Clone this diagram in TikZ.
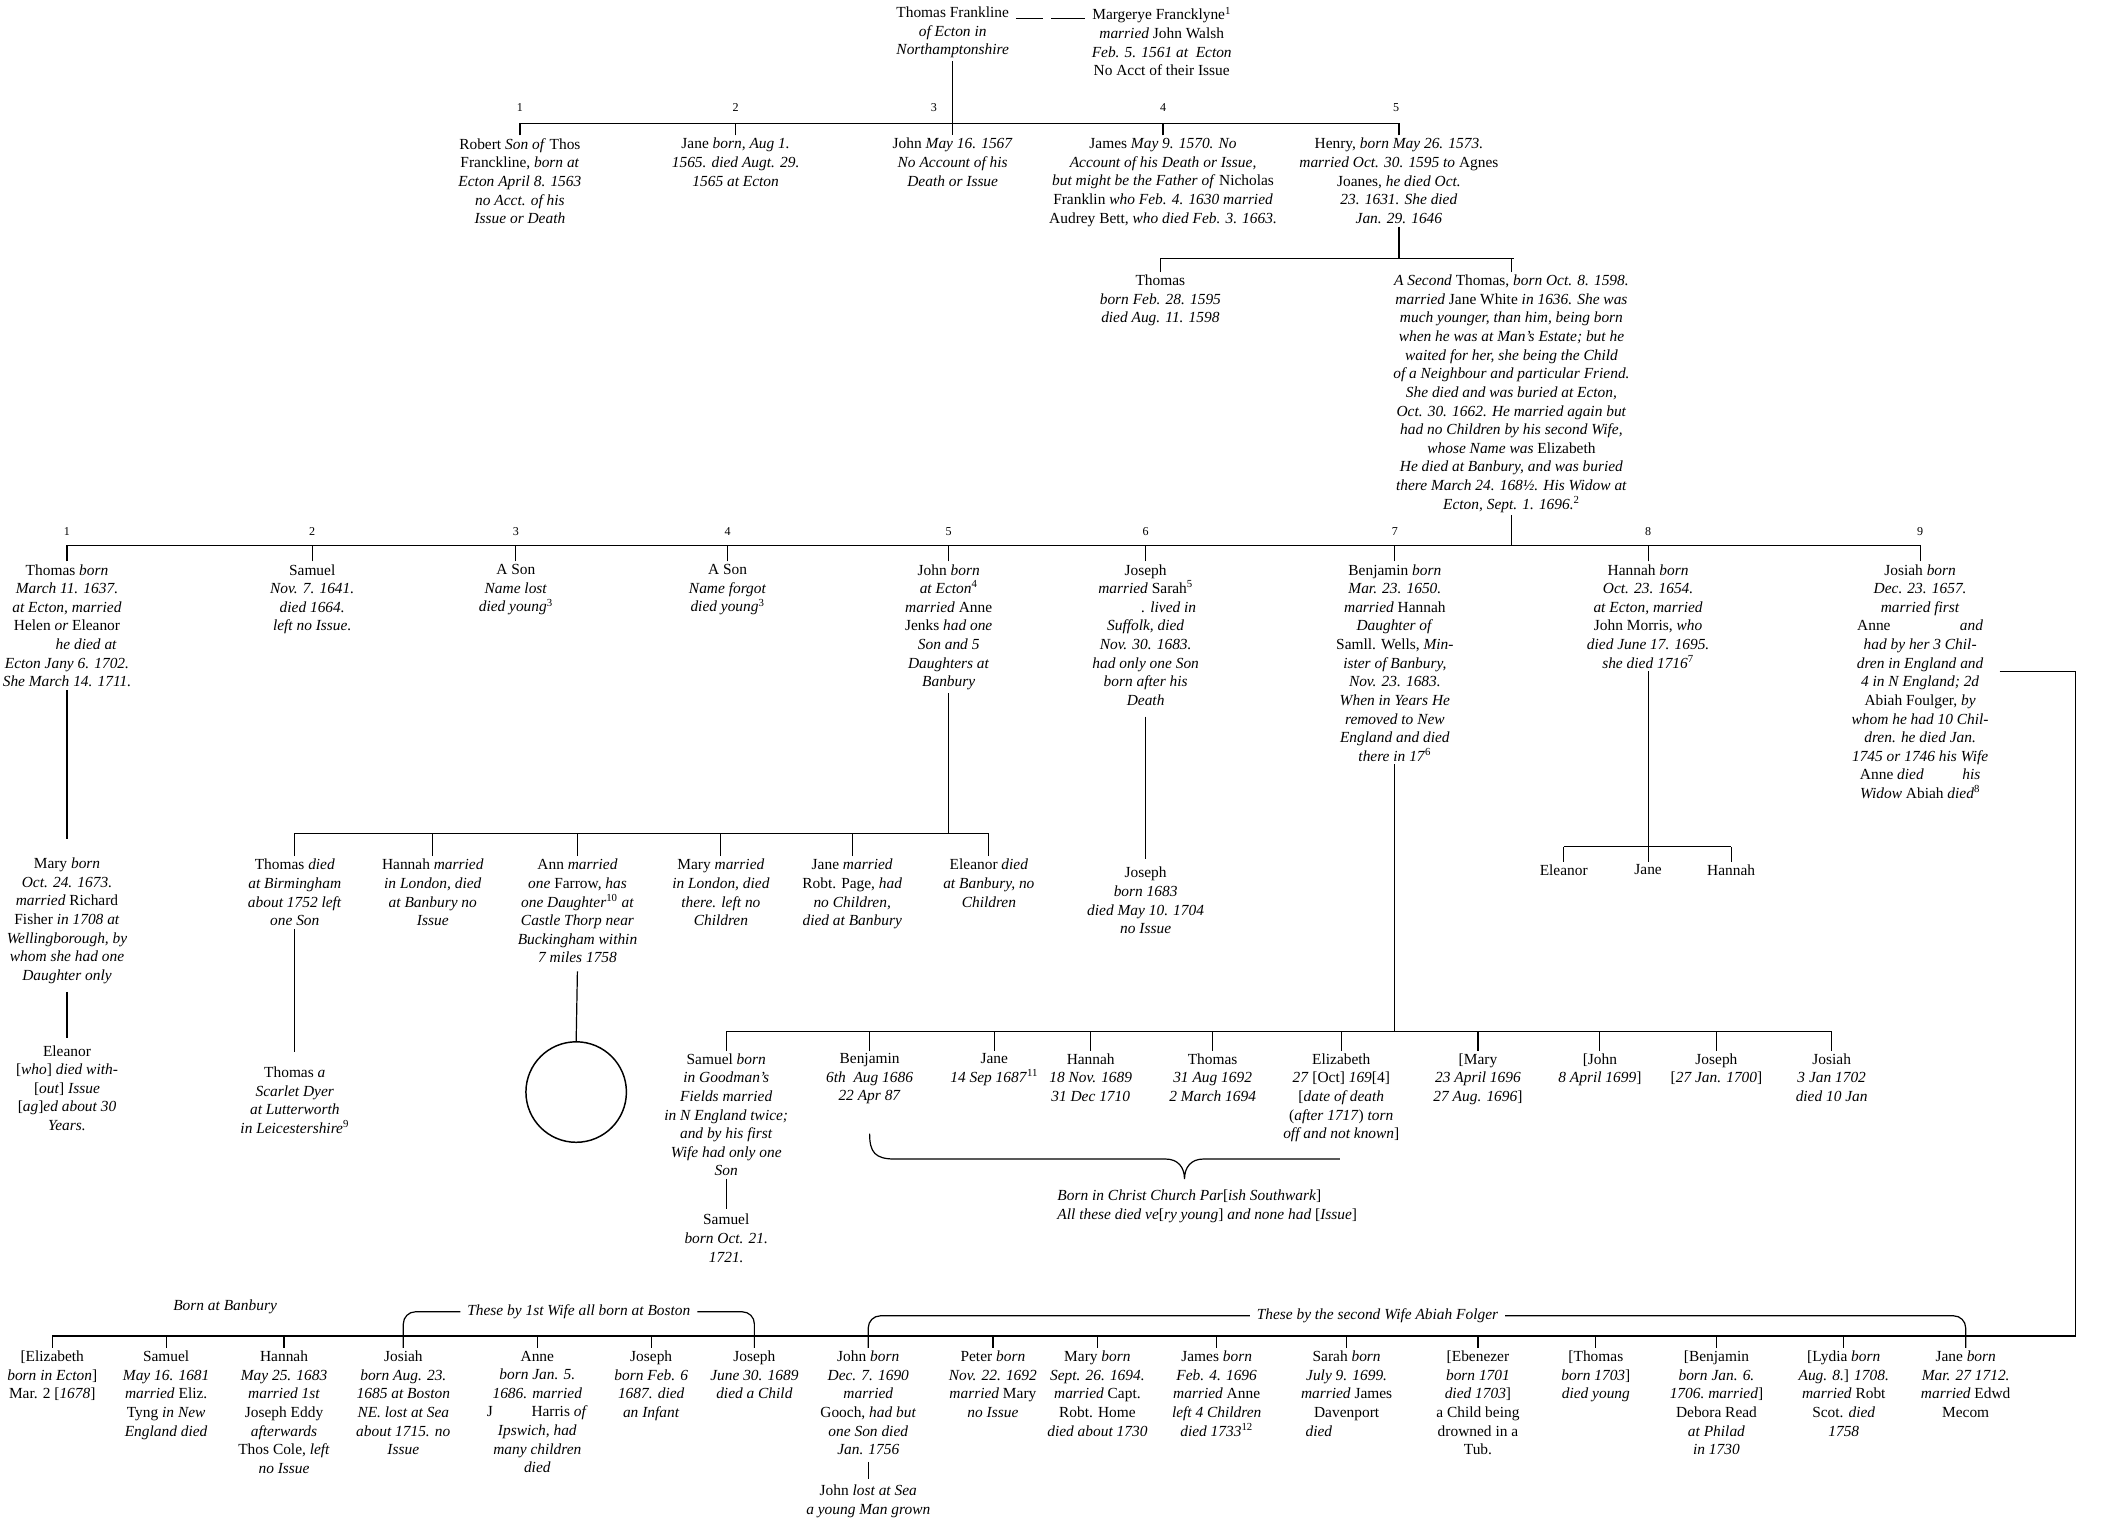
\documentclass[tikz,border=0pt]{standalone}
\usepackage{fontspec}
\setmainfont{Liberation Serif}
\tikzset{%
  kin/.style={anchor=north, align=center, inner sep=2pt,
              font=\fontsize{11.5}{13.9}\selectfont},
  nr/.style={font=\fontsize{9}{10}\selectfont, inner sep=1pt},
  tie/.style={line width=0.9pt},
}

\begin{document}
\begin{tikzpicture}[x=1pt, y=-1pt]
\useasboundingbox (0,0) rectangle (1568,1140);

% Thomas Frankline and his sister Margerye
\node[kin] (tf) at (711,3) {Thomas Frankline\\\textit{of Ecton in}\\\textit{Northamptonshire}};
\node[kin] (mf) at (867,3) {Margerye Francklyne\textsuperscript{1}\\\textit{married} John Walsh\\\textit{Feb. 5. 1561 at\ \ Ecton}\\No Acct of their Issue};
\draw[tie] ([shift={(3,11)}]tf.north east) -- ++(20,0);
\draw[tie] ([shift={(-3,11)}]mf.north west) -- ++(-25,0);

% First generation, five children
\coordinate (b1L) at (388,92);
\coordinate (b1R) at (1044,92);
\draw[tie] (b1L) -- (b1R);
\foreach \x/\n in {388/1, 549/2, 697/3, 868/4, 1042/5}
  \node[nr] (n1\n) at (\x,80) {\n};

\node[kin] (robert) at (388,101) {Robert \textit{Son of} Thos\\Franckline, \textit{born at}\\\textit{Ecton April 8. 1563}\\\textit{no Acct. of his}\\\textit{Issue or Death}};
\node[kin] (jane) at (549,101) {Jane \textit{born, Aug 1.}\\\textit{1565. died Augt. 29.}\\\textit{1565 at Ecton}};
\node[kin] (john) at (711,101) {John \textit{May 16. 1567}\\\textit{No Account of his}\\\textit{Death or Issue}};
\node[kin] (james) at (868,101) {James \textit{May 9. 1570. No}\\\textit{Account of his Death or Issue,}\\\textit{but might be\ the Father of} Nicholas\\Franklin \textit{who Feb. 4. 1630 married}\\Audrey Bett, \textit{who died Feb. 3. 1663.}};
\node[kin] (henry) at (1044,101) {Henry, \textit{born May 26. 1573.}\\\textit{married Oct. 30. 1595 to} Agnes\\Joanes, \textit{he died Oct.}\\\textit{23. 1631. She died}\\\textit{Jan. 29. 1646}};

\draw[tie] (tf.south) -- (john.north);
\foreach \p in {robert, jane, james, henry}
  \draw[tie] (\p.north) -- (\p.north |- b1L);

% Henry's two sons named Thomas
\coordinate (b2L) at (866,193);
\coordinate (b2R) at (1130,193);
\draw[tie] (b2L) -- (b2R);
\draw[tie] (henry.south) -- (henry.south |- b2L);

\node[kin] (thomasI) at (866,203) {Thomas\\\textit{born Feb. 28. 1595}\\\textit{died Aug. 11. 1598}};
\node[kin] (thomasII) at (1128,203) {\textit{A Second} Thomas, \textit{born Oct. 8. 1598.}\\
  \textit{married} Jane White \textit{in 1636. She was}\\
  \textit{much younger, than him, being born}\\
  \textit{when he was at Man's Estate; but he}\\
  \textit{waited for her, she being the Child}\\
  \textit{of a Neighbour and particular Friend.}\\
  \textit{She died and was buried at Ecton,}\\
  \textit{Oct. 30. 1662. He married again but}\\
  \textit{had no Children by his second Wife,}\\
  \textit{whose Name was} Elizabeth\hspace*{3.2em}\\
  \textit{He died at Banbury, and was buried}\\
  \textit{there March 24. 168½. His Widow at}\\
  \textit{Ecton, Sept. 1. 1696.}\textsuperscript{2}};
\foreach \p in {thomasI, thomasII}
  \draw[tie] (\p.north) -- (\p.north |- b2L);

% Children of the second Thomas
\coordinate (b3L) at (50,407);
\coordinate (b3R) at (1433,407);
\draw[tie] (b3L) -- (b3R);
\draw[tie] (thomasII.south) -- (thomasII.south |- b3L);
\foreach \x/\n in {50/1, 233/2, 385/3, 543/4, 708/5, 855/6, 1041/7, 1230/8, 1433/9}
  \node[nr] (n2\n) at (\x,397) {\n};

\node[kin] (thomasC) at (50,419) {Thomas \textit{born}\\\textit{March 11. 1637.}\\\textit{at Ecton, married}\\Helen \textit{or} Eleanor\\\hspace*{2.5em}\textit{he died at}\\\textit{Ecton Jany 6. 1702.}\\\textit{She March 14. 1711.}};
\node[kin] (samuelC) at (233,419) {Samuel\\\textit{Nov. 7. 1641.}\\\textit{died 1664.}\\\textit{left no Issue.}};
\node[kin] (sonC1) at (385,419) {A Son\\\textit{Name lost}\\\textit{died young}\textsuperscript{3}};
\node[kin] (sonC2) at (543,419) {A Son\\\textit{Name forgot}\\\textit{died young}\textsuperscript{3}};
\node[kin] (johnC) at (708,419) {John \textit{born}\\\textit{at Ecton}\textsuperscript{4}\\\textit{married} Anne\\Jenks \textit{had one}\\\textit{Son and 5}\\\textit{Daughters at}\\\textit{Banbury}};
\node[kin] (josephC) at (855,419) {Joseph\\\textit{married} Sarah\textsuperscript{5}\\\hspace*{3em}\textit{. lived in}\\\textit{Suffolk, died}\\\textit{Nov. 30. 1683.}\\\textit{had only one Son}\\\textit{born after his}\\\textit{Death}};
\node[kin] (benjaminC) at (1041,419) {Benjamin \textit{born}\\\textit{Mar. 23. 1650.}\\\textit{married} Hannah\\\textit{Daughter of}\\Samll. Wells, \textit{Min-}\\\textit{ister of Banbury,}\\\textit{Nov. 23. 1683.}\\\textit{When in Years He}\\\textit{removed to New}\\\textit{England and died}\\\textit{there in 17}\textsuperscript{6}};
\node[kin] (hannahC) at (1230,419) {Hannah \textit{born}\\\textit{Oct. 23. 1654.}\\\textit{at Ecton, married}\\John Morris, \textit{who}\\\textit{died June 17. 1695.}\\\textit{she died 1716}\textsuperscript{7}};
\node[kin] (josiahC) at (1433,419) {Josiah \textit{born}\\\textit{Dec. 23. 1657.}\\\textit{married first}\\Anne\hspace{4.5em}\textit{and}\\\textit{had by her 3 Chil-}\\\textit{dren in England and}\\\textit{4 in N England; 2d}\\Abiah Foulger, \textit{by}\\\textit{whom he had 10 Chil-}\\\textit{dren. he died Jan.}\\\textit{1745 or 1746 his\ Wife}\\Anne \textit{died}\hspace{2.5em}\textit{his}\\\textit{Widow} Abiah \textit{died}\textsuperscript{8}};

\foreach \p in {thomasC, samuelC, sonC1, sonC2, johnC, josephC, benjaminC, hannahC, josiahC}
  \draw[tie] (\p.north) -- (\p.north |- b3L);

% Thomas's line: Mary and her daughter
\node[kin] (maryT) at (50,638) {Mary \textit{born}\\\textit{Oct. 24. 1673.}\\\textit{married} Richard\\Fisher \textit{in 1708 at}\\\textit{Wellingborough, by}\\\textit{whom she had one}\\\textit{Daughter only}};
\node[kin] (eleanorT) at (50,778) {Eleanor\\{[}\textit{who}] \textit{died with-}\\{[}\textit{out}] \textit{Issue}\\{[}\textit{ag}]\textit{ed about 30}\\\textit{Years.}};
\draw[tie, shorten >=12pt] (thomasC.south) -- (maryT.north);
\draw[tie, shorten <=4pt, shorten >=3pt] (maryT.south) -- (eleanorT.north);

% John's son and five daughters
\coordinate (b4L) at (220,622);
\coordinate (b4R) at (738,622);
\draw[tie] (b4L) -- (b4R);
\draw[tie] (johnC.south) -- (johnC.south |- b4L);

\node[kin] (thomasN) at (220,639) {Thomas \textit{died}\\\textit{at Birmingham}\\\textit{about 1752 left}\\\textit{one Son}};
\node[kin] (hannahN) at (323,639) {Hannah \textit{married}\\\textit{in London, died}\\\textit{at Banbury no}\\\textit{Issue}};
\node[kin] (annN) at (431,639) {Ann \textit{married}\\\textit{one} Farrow, \textit{has}\\\textit{one Daughter}\textsuperscript{10} \textit{at}\\\textit{Castle Thorp near}\\\textit{Buckingham within}\\\textit{7 miles 1758}};
\node[kin] (maryN) at (538,639) {Mary \textit{married}\\\textit{in London, died}\\\textit{there. left no}\\\textit{Children}};
\node[kin] (janeN) at (636,639) {Jane \textit{married}\\Robt. Page, \textit{had}\\\textit{no Children,}\\\textit{died at Banbury}};
\node[kin] (eleanorN) at (738,639) {Eleanor \textit{died}\\\textit{at Banbury, no}\\\textit{Children}};
\foreach \p in {thomasN, hannahN, annN, maryN, janeN, eleanorN}
  \draw[tie] (\p.north) -- (\p.north |- b4L);

\node[kin] (dyer) at (220,794) {Thomas \textit{a}\\\textit{Scarlet Dyer}\\\textit{at Lutterworth}\\\textit{in Leicestershire}\textsuperscript{9}};
\draw[tie, shorten >=9pt] (thomasN.south) -- (dyer.north);

% Ann's daughter, left as an empty circle
\node[draw, circle, minimum size=75pt, inner sep=0pt, line width=1.1pt] (annKid) at (430,815) {};
\draw[tie, shorten <=4pt] (annN.south) -- (annKid.north);

% Joseph's son
\node[kin] (josephS) at (855,645) {Joseph\\\textit{born 1683}\\\textit{died May 10. 1704}\\\textit{no Issue}};
\draw[tie, shorten <=6pt, shorten >=4pt] (josephC.south) -- (josephS.north);

% Hannah's three daughters
\coordinate (b6L) at (1167,632);
\coordinate (b6R) at (1292,632);
\draw[tie] (b6L) -- (b6R);
\node[kin] (eleanorH) at (1167,643) {Eleanor};
\node[kin] (janeH) at (1230,643) {Jane};
\node[kin] (hannahH) at (1292,643) {Hannah};
\draw[tie] (hannahC.south) -- (janeH.north);
\foreach \p in {eleanorH, hannahH}
  \draw[tie] (\p.north) -- (\p.north |- b6L);

% Benjamin's children
\coordinate (b5L) at (542,770);
\coordinate (b5R) at (1367,770);
\draw[tie] (b5L) -- (b5R);
\draw[tie] (benjaminC.south) -- (benjaminC.south |- b5L);

\node[kin] (samuelB) at (542,784) {Samuel \textit{born}\\\textit{in Goodman's}\\\textit{Fields married}\\\textit{in N England twice;}\\\textit{and by his first}\\\textit{Wife had only one}\\\textit{Son}};
\node[kin] (benjaminB) at (649,784) {Benjamin\\\textit{6th\ \ Aug 1686}\\\textit{22 Apr 87}};
\node[kin] (janeB) at (742,784) {Jane\\\textit{14 Sep 1687}\textsuperscript{11}};
\node[kin] (hannahB) at (814,784) {Hannah\\\textit{18 Nov. 1689}\\\textit{31 Dec 1710}};
\node[kin] (thomasB) at (905,784) {Thomas\\\textit{31 Aug 1692}\\\textit{2 March 1694}};
\node[kin] (elizabethB) at (1001,784) {Elizabeth\\\textit{27} [Oct] \textit{169}[4]\\{[}\textit{date of death}\\(\textit{after 1717}) \textit{torn}\\\textit{off and not known}]};
\node[kin] (maryB) at (1103,784) {[Mary\\\textit{23 April 1696}\\\textit{27 Aug. 1696}]};
\node[kin] (johnB) at (1194,784) {[John\\\textit{8 April 1699}]};
\node[kin] (josephB) at (1281,784) {Joseph\\{[}\textit{27 Jan. 1700}]};
\node[kin] (josiahB) at (1367,784) {Josiah\\\textit{3 Jan 1702}\\\textit{died 10 Jan}};
\foreach \p in {samuelB, benjaminB, janeB, hannahB, thomasB, elizabethB, maryB, johnB, josephB, josiahB}
  \draw[tie] (\p.north) -- (\p.north |- b5L);

\node[kin] (samuelS) at (542,904) {Samuel\\\textit{born Oct. 21.}\\\textit{1721.}};
\draw[tie, shorten >=2pt] (samuelB.south) -- (samuelS.north);

% Brace over the children born in Southwark
\coordinate (brL) at (649,846);
\coordinate (brT) at (884,880);
\coordinate (brR) at (1000,865);
\draw[tie] (brL) .. controls (649,860) and (653,865) .. (668,865) -- (870,865)
  .. controls (879,865) and (884,871) .. (brT)
  .. controls (884,871) and (889,865) .. (898,865) -- (brR);
\node[kin, anchor=north west, align=left] (southwark) at (787,886) {\textit{Born in Christ Church Par}[\textit{ish Southwark}]\\\textit{All these died ve}[\textit{ry young}] \textit{and none had} [\textit{Issue}]};

% Josiah's seventeen children
\coordinate (b7L) at (39,997);
\coordinate (b7R) at (1549,997);
\draw[tie] (b7L) -- (b7R);
\draw[tie] ([shift={(6,82)}]josiahC.north east) -| (b7R);

\node[kin] (elizabethF) at (39,1006) {[Elizabeth\\\textit{born in Ecton}]\\Mar. 2 [\textit{1678}]};
\node[kin] (samuelF) at (124,1006) {Samuel\\\textit{May 16. 1681}\\\textit{married} Eliz.\\Tyng \textit{in New}\\\textit{England died}};
\node[kin] (hannahF) at (212,1006) {Hannah\\\textit{May 25. 1683}\\\textit{married 1st}\\Joseph Eddy\\\textit{afterwards}\\Thos Cole, \textit{left}\\\textit{no Issue}};
\node[kin] (josiahF) at (301,1006) {Josiah\\\textit{born Aug. 23.}\\\textit{1685 at Boston}\\\textit{NE. lost at Sea}\\\textit{about 1715. no}\\\textit{Issue}};
\node[kin] (anneF) at (401,1006) {Anne\\\textit{born Jan. 5.}\\\textit{1686. married}\\J\hspace{2.5em}Harris \textit{of}\\\textit{Ipswich, had}\\\textit{many children}\\\textit{died}};
\node[kin] (josephF) at (486,1006) {Joseph\\\textit{born Feb. 6}\\\textit{1687. died}\\\textit{an Infant}};
\node[kin] (josephF2) at (563,1006) {Joseph\\\textit{June 30. 1689}\\\textit{died a Child}};
\node[kin] (johnF) at (648,1006) {John \textit{born}\\\textit{Dec. 7. 1690}\\\textit{married}\hspace*{2em}\\Gooch, \textit{had but}\\\textit{one Son died}\\\textit{Jan. 1756}};
\node[kin] (peterF) at (741,1006) {Peter \textit{born}\\\textit{Nov. 22. 1692}\\\textit{married} Mary\\\textit{no Issue}};
\node[kin] (maryF) at (819,1006) {Mary \textit{born}\\\textit{Sept. 26. 1694.}\\\textit{married} Capt.\\Robt. Home\\\textit{died about 1730}};
\node[kin] (jamesF) at (908,1006) {James \textit{born}\\\textit{Feb. 4. 1696}\\\textit{married} Anne\\\textit{left 4 Children}\\\textit{died 1733}\textsuperscript{12}};
\node[kin] (sarahF) at (1005,1006) {Sarah \textit{born}\\\textit{July 9. 1699.}\\\textit{married} James\\Davenport\\\textit{died}\hspace*{3.6em}};
\node[kin] (ebenezerF) at (1103,1006) {[Ebenezer\\\textit{born 1701}\\\textit{died 1703}]\\a Child being\\drowned in a\\Tub.};
\node[kin] (thomasF) at (1191,1006) {[Thomas\\\textit{born 1703}]\\\textit{died young}};
\node[kin] (benjaminF) at (1281,1006) {[Benjamin\\\textit{born Jan. 6.}\\\textit{1706.\ married}]\\Debora Read\\\textit{at Philad}\\\textit{in 1730}};
\node[kin] (lydiaF) at (1376,1006) {[Lydia \textit{born}\\\textit{Aug. 8.}] \textit{1708.}\\\textit{married} Robt\\Scot. \textit{died}\\\textit{1758}};
\node[kin] (janeF) at (1467,1006) {Jane \textit{born}\\\textit{Mar. 27 1712.}\\\textit{married} Edwd\\Mecom};
\foreach \p in {elizabethF, samuelF, hannahF, josiahF, anneF, josephF, josephF2, johnF,
                peterF, maryF, jamesF, sarahF, ebenezerF, thomasF, benjaminF, lydiaF, janeF}
  \draw[tie] (\p.north) -- (\p.north |- b7L);

\node[kin] (johnFson) at (648,1106) {John \textit{lost at Sea}\\\textit{a young Man\ grown}};
\draw[tie, shorten <=3pt, shorten >=2pt] (johnF.south) -- (johnFson.north);

% Notes above the last row
\node[kin, anchor=center] (banbury) at (168,975) {\textit{Born at Banbury}};
\node[kin, anchor=center, inner sep=5pt] (wife1) at (432,979) {\textit{These by 1st Wife all born at Boston}};
\node[kin, anchor=center, inner sep=5pt] (wife2) at (1028,982) {\textit{These by the second Wife Abiah Folger}};
\draw[tie, rounded corners=9pt] (josiahF.north) |- (wife1.west);
\draw[tie, rounded corners=9pt] (josephF2.north) |- (wife1.east);
\draw[tie, rounded corners=9pt] (johnF.north) |- (wife2.west);
\draw[tie, rounded corners=9pt] (janeF.north) |- (wife2.east);

\end{tikzpicture}
\end{document}
